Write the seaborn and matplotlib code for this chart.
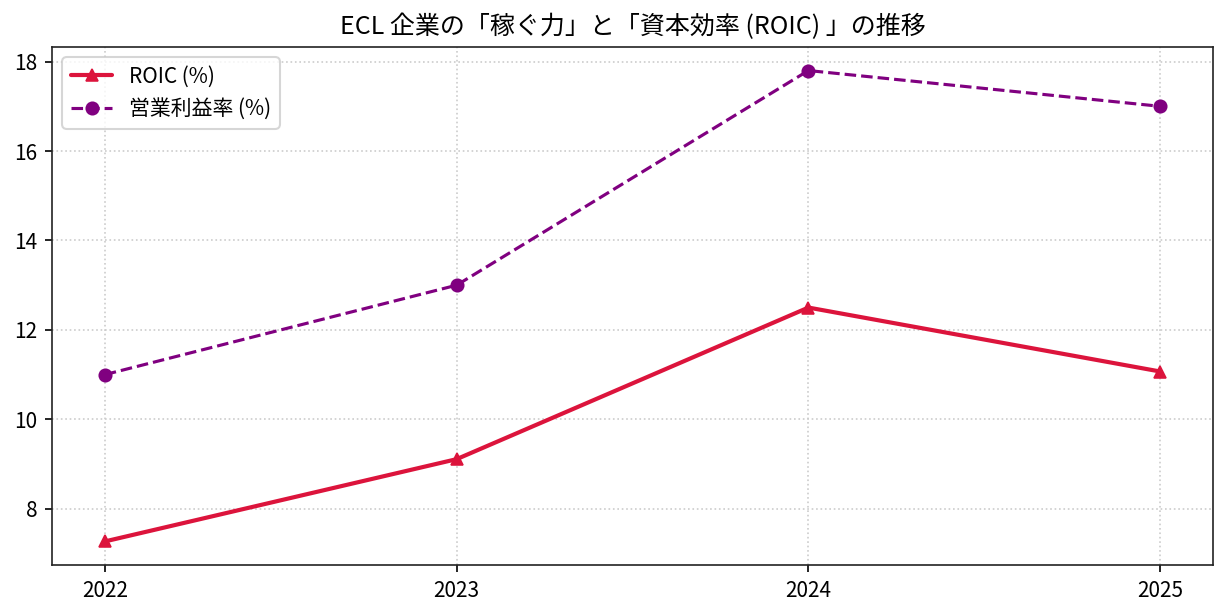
import matplotlib
matplotlib.use("Agg")
import matplotlib.pyplot as plt
import seaborn as sns
import pandas as pd

years = [2022, 2023, 2024, 2025]
roic = [7.27, 9.11, 12.50, 11.07]
op_margin = [11.0, 13.0, 17.8, 17.0]
labels = ["ROIC (%)", "営業利益率 (%)"]
title = "ECL 企業の「稼ぐ力」と「資本効率 (ROIC) 」の推移"

sns.set_style("ticks")
plt.rcParams['font.family'] = ['Noto Sans CJK JP', 'DejaVu Sans']
plt.rcParams['axes.unicode_minus'] = False
plt.rcParams['text.color'] = 'black'
plt.rcParams['xtick.color'] = 'black'
plt.rcParams['ytick.color'] = 'black'
plt.rcParams['axes.labelcolor'] = 'black'

fig, ax = plt.subplots(figsize=(1228/150, 616/150), dpi=150)
fig.subplots_adjust(left=52/1228, right=1213/1228, top=1-47/616, bottom=1-565/616)

df1 = pd.DataFrame({"year": years, "value": roic})
df2 = pd.DataFrame({"year": years, "value": op_margin})

sns.lineplot(data=df1, x="year", y="value", ax=ax, color="crimson", marker="^",
             markersize=6, linewidth=2, label=labels[0], markeredgecolor="crimson")
sns.lineplot(data=df2, x="year", y="value", ax=ax, color="purple", marker="o",
             markersize=6, linewidth=1.5, linestyle="--", label=labels[1],
             markeredgecolor="purple")

ax.set_xticks(years)
ax.set_xticklabels([str(y) for y in years])
ax.set_xlabel("")
ax.set_ylabel("")
ax.set_title(title, fontsize=12, color="black")
ax.grid(True, linestyle=":", color="#cccccc", linewidth=0.8)
ax.tick_params(labelsize=10)
for s in ax.spines.values():
    s.set_color("#222222")
ax.legend(loc="upper left", fontsize=10, frameon=True)

fig.savefig("out.png", dpi=150)
